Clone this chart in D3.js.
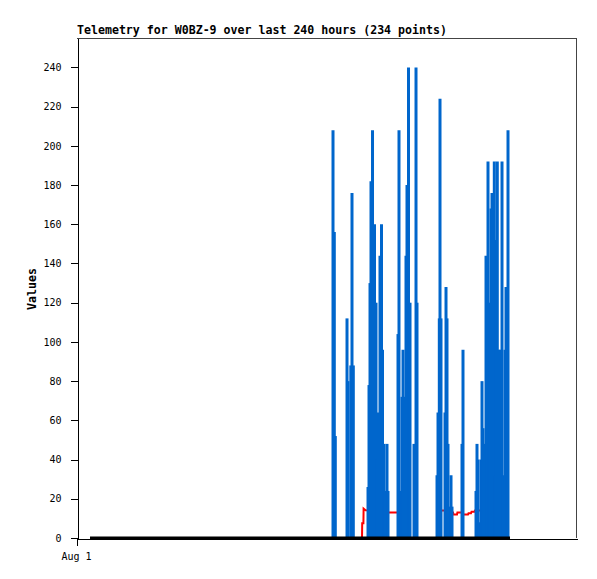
<!DOCTYPE html>
<html><head><meta charset="utf-8">
<script src="https://cdn.jsdelivr.net/npm/d3@7"></script>
<style>body{margin:0;background:#fff}svg{display:block}</style>
</head><body><svg id="c" width="597" height="579"></svg>
<script>
const titleText = "Telemetry for W0BZ-9 over last 240 hours (234 points)";
const yLabelText = "Values";
const yTickValues = [0,20,40,60,80,100,120,140,160,180,200,220,240];
const yMax = 255;
const axisStart = new Date(Date.UTC(2023,7,1,0,0));
const axisEnd = new Date(Date.UTC(2023,7,12,21,43));
const dataStart = new Date(Date.UTC(2023,7,1,7,26));
const xTickDates = [axisStart];

// blue channel samples: [hours since dataStart, value]
const blueSamples = [
[138.86,208],[139.6,156],[140.17,52],
[146.86,112],[147.43,80],[149.03,88],[149.71,176],[150.46,88],
[158.86,26],[159.43,78],[160.0,130],[160.57,182],[161.43,208],[162.57,160],[163.43,120],[164.0,40],[164.86,64],[165.71,144],[166.57,160],[167.14,96],[168.0,48],[168.57,24],[169.71,48],[170.29,24],
[176.0,104],[176.57,208],[177.6,24],[178.29,72],[178.86,96],[179.43,72],[180.57,144],[181.14,180],[182.0,240],[182.86,120],
[185.14,48],[186.29,240],[186.86,120],
[198.29,32],[198.86,64],[199.6,112],[200.0,224],[200.57,112],
[202.86,64],[203.43,128],[204.0,112],[204.57,48],[205.14,16],[206.29,32],[206.86,16],
[212.57,48],[213.14,96],
[220.57,24],[221.14,48],[221.71,40],[222.29,8],[223.43,40],[224.0,80],[224.57,56],[225.43,48],[226.29,144],[226.86,96],[227.43,192],[228.0,48],[228.57,120],[229.14,168],[229.71,176],[230.29,152],[231.03,192],[231.6,32],[232.17,152],[232.74,192],[233.71,96],[234.57,96],[235.43,192],[236.0,32],[237.14,96],[237.71,128],[238.29,104],[238.86,208]
];

// red channel: [hours since dataStart, value]
const redSeries = [
[0,0],[155.43,0],[155.54,7.5],[156.23,7.5],[156.34,15],[157.43,14.2],[165.71,14],[165.94,13],
[181.43,13],[181.89,11],[182.06,0],[200.34,0],[200.57,14],[204.57,14],[204.8,13],
[207.43,13],[207.66,12],[209.71,12],[209.94,13],[212.57,13],[212.8,12],[216.0,12],
[216.29,12.6],[217.71,12.6],[218.0,13.4],[219.71,13.4],[220.0,14],[236.57,14],
[236.86,14.6],[237.43,14.6],[237.71,14],[238.86,14]
];

// zero channel
const blackSeries = [[0,0],[240,0]];

const svg = d3.select("#c");
const x = d3.scaleUtc().domain([axisStart, axisEnd]).range([77, 577]);
const y = d3.scaleLinear().domain([0, yMax]).range([538, 38]);
const tx = h => x(new Date(dataStart.getTime() + h * 3600000));
const line = d3.line().x(d => tx(d[0])).y(d => y(d[1]));

svg.append("path")
  .attr("d", `M${x.range()[0]},${y(yMax)+0.5}H${x.range()[1]-0.5}V${y(0)}`)
  .attr("fill","none").attr("stroke","#444").attr("stroke-width",1)
  .attr("shape-rendering","crispEdges");

svg.append("path").datum(redSeries).attr("d", line)
  .attr("fill","none").attr("stroke","#ff0000").attr("stroke-width",2);

svg.append("g").selectAll("line").data(blueSamples).join("line")
  .attr("x1", d => tx(d[0])).attr("x2", d => tx(d[0]))
  .attr("y1", y(0)).attr("y2", d => y(d[1]))
  .attr("stroke","#0066cc").attr("stroke-width",3);

svg.append("path").datum(blackSeries).attr("d", line)
  .attr("fill","none").attr("stroke","#000").attr("stroke-width",3);

const font = "'DejaVu Sans Mono', 'Liberation Mono', monospace";

const yAxis = svg.append("g").attr("transform","translate(77.5,0)")
  .call(d3.axisLeft(y).tickValues(yTickValues).tickSize(7).tickSizeOuter(0).tickPadding(9));
const xAxis = svg.append("g").attr("transform","translate(0,538.5)")
  .call(d3.axisBottom(x).tickValues(xTickDates).tickFormat(d3.utcFormat("%b %-d")).tickSize(7).tickSizeOuter(0).tickPadding(7));
[yAxis, xAxis].forEach(g => {
  g.selectAll("text").attr("font-family", font).attr("font-size", 10).attr("fill","#000");
  g.selectAll("line,path").attr("stroke","#000").attr("shape-rendering","crispEdges");
});
xAxis.select(".tick line").attr("x1",0.5).attr("x2",0.5);
xAxis.select(".tick").attr("transform", `translate(${x(axisStart)-0.5},0)`);

svg.append("text").attr("x",77).attr("y",34)
  .attr("font-family",font).attr("font-size",11.6).attr("font-weight","bold")
  .text(titleText);

svg.append("text").attr("transform","translate(35.5,289) rotate(-90)")
  .attr("text-anchor","middle")
  .attr("font-family",font).attr("font-size",11.6).attr("font-weight","bold")
  .text(yLabelText);
</script>
</body></html>
